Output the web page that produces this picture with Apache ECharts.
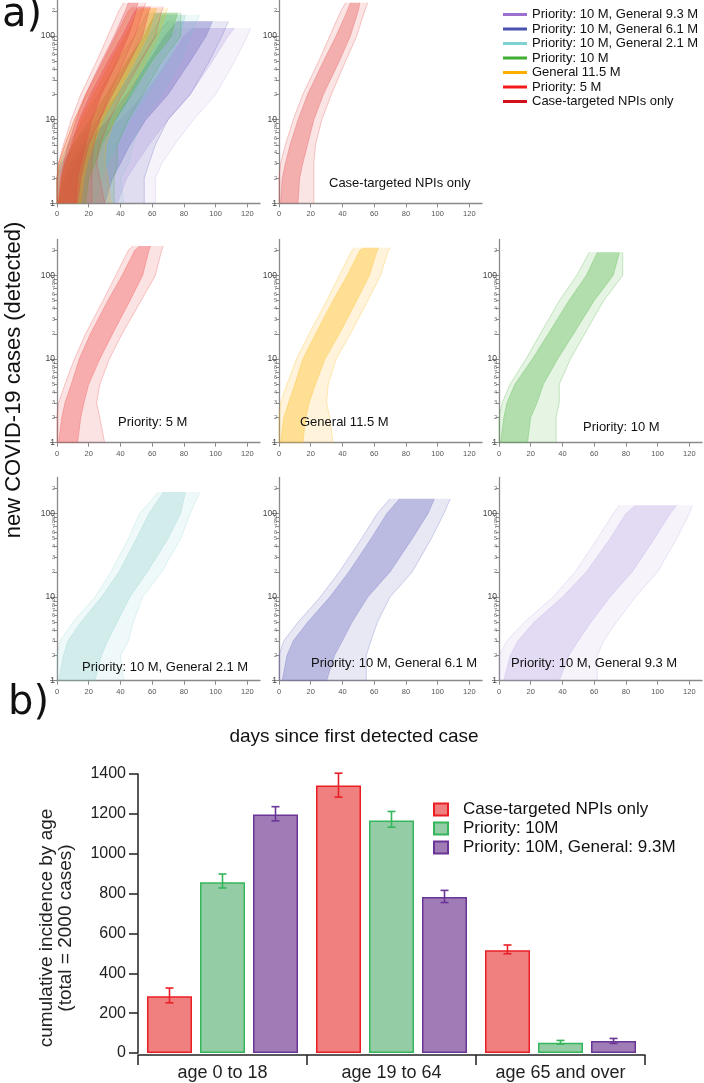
<!DOCTYPE html>
<html><head><meta charset="utf-8">
<script src="https://cdn.jsdelivr.net/npm/echarts@6/dist/echarts.min.js"></script>
<style>html,body{margin:0;padding:0;background:#fff}#c{width:704px;height:1083px}</style>
</head><body><div id="c"></div><script>
// ---------- Panel (a): scenario names & colours ----------
const scenarioNames = ['Priority: 10 M, General 9.3 M', 'Priority: 10 M, General 6.1 M', 'Priority: 10 M, General 2.1 M', 'Priority: 10 M', 'General 11.5 M', 'Priority: 5 M', 'Case-targeted NPIs only'];
const panelLabels = ['Priority: 10 M, General 9.3 M', 'Priority: 10 M, General 6.1 M', 'Priority: 10 M, General 2.1 M', 'Priority: 10 M', 'General 11.5 M', 'Priority: 5 M', 'Case-targeted NPIs only'];
const legendColors = ['#9b70cf', '#4a52b0', '#80d2d2', '#3fae32', '#ffae00', '#f51a1a', '#d0101c'];
const bandColors = ['#a88bd8', '#5c5eb9', '#74c6c6', '#44b038', '#ffb300', '#ec3b3b', '#e23d3d'];

// case levels reached (y) and days at which the bundle edges reach them (x)
const purpleLevels = [1, 2, 3, 5, 10, 20, 50, 100, 125];
const purpleOuterLeft = [0, 0, 5, 16, 34, 48, 62, 72, 76];
const purpleOuterRight = [62, 62, 66, 74, 86, 100, 112, 120, 122];
const purpleCoreLeft = [3, 7, 12, 22, 40, 55, 70, 80, 86];
const purpleCoreRight = [38, 44, 50, 58, 70, 84, 98, 108, 112];

const blueLevels = [1, 2, 3, 5, 10, 20, 50, 100, 150];
const blueOuterLeft = [0, 0, 3, 12, 26, 38, 52, 62, 70];
const blueOuterRight = [55, 55, 58, 62, 70, 84, 96, 104, 108];
const blueCoreLeft = [2, 5, 9, 18, 32, 44, 58, 68, 76];
const blueCoreRight = [30, 35, 40, 46, 56, 70, 84, 94, 98];

const cyanLevels = [1, 2, 3, 5, 10, 20, 50, 100, 180];
const cyanOuterLeft = [0, 0, 2, 10, 24, 34, 45, 52, 64];
const cyanOuterRight = [42, 40, 45, 48, 54, 66, 78, 84, 90];
const cyanCoreLeft = [1, 4, 7, 15, 28, 39, 50, 58, 67];
const cyanCoreRight = [24, 28, 32, 38, 46, 57, 70, 78, 81];

const greenLevels = [1, 2, 3, 5, 10, 20, 50, 100, 190];
const greenOuterLeft = [0, 0, 2, 7, 17, 26, 38, 49, 57];
const greenOuterRight = [36, 36, 38, 38, 45, 54, 66, 78, 78];
const greenCoreLeft = [1, 3, 5, 10, 21, 31, 44, 55, 62];
const greenCoreRight = [18, 20, 24, 28, 37, 47, 60, 72, 76];

const orangeLevels = [1, 2, 3, 5, 10, 20, 50, 100, 200, 215];
const orangeOuterLeft = [0, 0, 1, 5, 11, 19, 30, 38, 46, 48];
const orangeOuterRight = [34, 32, 30, 31, 36, 45, 56, 64, 69, 70];
const orangeCoreLeft = [1, 3, 6, 10, 15, 23, 34, 43, 51, 54];
const orangeCoreRight = [15, 17, 19, 23, 29, 38, 49, 57, 62, 63];

const p5Levels = [1, 2, 3, 5, 10, 20, 50, 100, 200, 225];
const p5OuterLeft = [0, 0, 1, 5, 11, 18, 29, 37, 45, 48];
const p5OuterRight = [30, 27, 25, 27, 33, 41, 53, 62, 66, 67];
const p5CoreLeft = [1, 3, 5, 9, 14, 21, 32, 41, 49, 52];
const p5CoreRight = [13, 15, 17, 20, 27, 35, 46, 54, 58, 59];

const caseLevels = [1, 2, 3, 5, 10, 20, 50, 100, 200, 250];
const caseOuterLeft = [0, 0, 1, 4, 9, 15, 25, 32, 39, 42];
const caseOuterRight = [22, 22, 22, 23, 27, 33, 42, 49, 54, 56];
const caseCoreLeft = [1, 2, 4, 7, 12, 18, 28, 36, 43, 45];
const caseCoreRight = [12, 13, 15, 18, 22, 28, 38, 45, 50, 51];

// axis tick values
const xTickValues = [0, 20, 40, 60, 80, 100, 120];
const yTickValues = [1, 2, 3, 4, 5, 6, 7, 8, 9, 10, 20, 30, 40, 50, 60, 70, 80, 90, 100, 200];
const yMajorTicks = [1, 10, 100];

// ---------- Panel (b): cumulative incidence by age ----------
const ageCategories = ['age 0 to 18', 'age 19 to 64', 'age 65 and over'];
const barNames = ['Case-targeted NPIs only', 'Priority: 10M', 'Priority: 10M, General: 9.3M'];
const caseTargetedValues = [285, 1342, 516];
const priority10Values = [857, 1167, 52];
const priorityGeneralValues = [1197, 783, 60];
const caseTargetedLow = [252, 1284, 498];
const caseTargetedHigh = [326, 1404, 542];
const priority10Low = [828, 1133, 45];
const priority10High = [898, 1212, 63];
const priorityGeneralLow = [1165, 755, 48];
const priorityGeneralHigh = [1236, 816, 73];

// ---------- build ----------
const scen = [
  [purpleLevels, purpleOuterLeft, purpleOuterRight, purpleCoreLeft, purpleCoreRight],
  [blueLevels, blueOuterLeft, blueOuterRight, blueCoreLeft, blueCoreRight],
  [cyanLevels, cyanOuterLeft, cyanOuterRight, cyanCoreLeft, cyanCoreRight],
  [greenLevels, greenOuterLeft, greenOuterRight, greenCoreLeft, greenCoreRight],
  [orangeLevels, orangeOuterLeft, orangeOuterRight, orangeCoreLeft, orangeCoreRight],
  [p5Levels, p5OuterLeft, p5OuterRight, p5CoreLeft, p5CoreRight],
  [caseLevels, caseOuterLeft, caseOuterRight, caseCoreLeft, caseCoreRight]
];
function edge(levels, D) { return levels.map((l, i) => [D[i], l]); }
function polygon(levels, L, R) { return edge(levels, L).concat(edge(levels, R).reverse()); }
const FONT = 'Liberation Sans, Arial, sans-serif';
const colLeft = [57, 279, 499];
const rowTop = [0, 239.4, 477.4];
const PW = 203, PH = 203.3;
const panelPos = [[0, 0], [1, 0], [0, 1], [1, 1], [2, 1], [0, 2], [1, 2], [2, 2]];
const panelScenario = [null, 6, 5, 4, 3, 2, 1, 0];

const grids = [], xAxes = [], yAxes = [], series = [];
function yFmt(v) {
  const n = Math.round(v * 1000) / 1000;
  if (yMajorTicks.indexOf(n) >= 0) return '{M|' + n + '}';
  return '{m|' + String(n).charAt(0) + '}';
}
panelPos.forEach((p, g) => {
  grids.push({ left: colLeft[p[0]], top: rowTop[p[1]], width: PW, height: PH });
  xAxes.push({
    type: 'value', gridIndex: g, min: 0, max: 128,
    axisLine: { show: true, lineStyle: { color: '#8a8a8a', width: 1.3 } },
    axisTick: { show: true, length: 4, customValues: xTickValues, lineStyle: { color: '#8a8a8a' } },
    axisLabel: { customValues: xTickValues, fontSize: 7.5, color: '#555', margin: 7, fontFamily: FONT },
    splitLine: { show: false }
  });
  yAxes.push({
    type: 'log', logBase: 10, gridIndex: g, min: 1, max: 270, position: 'left',
    axisLine: { show: true, lineStyle: { color: '#8a8a8a', width: 1.3 } },
    axisTick: { show: true, length: 3, customValues: yTickValues, lineStyle: { color: '#8a8a8a' } },
    axisLabel: { customValues: yTickValues, formatter: yFmt, margin: 2, fontFamily: FONT,
      rich: { M: { fontSize: 8.5, color: '#444', fontFamily: FONT }, m: { fontSize: 5.5, color: '#666', fontFamily: FONT } } },
    splitLine: { show: false }, minorTick: { show: false }
  });
  yAxes.push({
    type: 'log', logBase: 10, gridIndex: g, min: 1, max: 270, position: 'left',
    axisLine: { show: false },
    axisTick: { show: true, length: 7, customValues: yMajorTicks, lineStyle: { color: '#8a8a8a' } },
    axisLabel: { show: false }, splitLine: { show: false }
  });
});

function bandSeries(si, g) {
  const s = scen[si];
  const outer = polygon(s[0], s[1], s[2]);
  const core = polygon(s[0], s[3], s[4]);
  const edges = [edge(s[0], s[1]), edge(s[0], s[2]), edge(s[0], s[3]), edge(s[0], s[4])];
  const col = bandColors[si];
  const faint = (si === 2 || si === 0) ? 0.75 : 1;
  return {
    type: 'custom', name: scenarioNames[si], xAxisIndex: g, yAxisIndex: g * 2,
    data: outer, silent: true, itemStyle: { color: legendColors[si] },
    renderItem: function (params, api) {
      if (params.dataIndex !== 0) return null;
      const pts = a => a.map(q => api.coord(q));
      const children = [
        { type: 'polygon', shape: { points: pts(outer) }, style: { fill: col, opacity: 0.14 * faint } },
        { type: 'polygon', shape: { points: pts(core) }, style: { fill: col, opacity: 0.32 * faint } }
      ];
      edges.forEach(e => children.push({ type: 'polyline', shape: { points: pts(e) },
        style: { stroke: col, fill: null, lineWidth: 0.8, opacity: 0.35 * faint } }));
      return { type: 'group', children: children };
    }
  };
}
for (let si = 0; si < 7; si++) series.push(bandSeries(si, 0));
for (let g = 1; g < 8; g++) series.push(bandSeries(panelScenario[g], g));

// bar chart grid (index 8)
grids.push({ left: 138, right: 59, top: 774, height: 279 });
xAxes.push({
  type: 'category', gridIndex: 8, data: ageCategories, offset: 2,
  axisLine: { show: true, onZero: false, lineStyle: { color: '#222', width: 1.5 } },
  axisTick: { show: true, length: 10, lineStyle: { color: '#222', width: 1.5 } },
  axisLabel: { fontSize: 18, color: '#222', margin: 9, fontFamily: FONT, interval: 0 }
});
yAxes.push({
  type: 'value', gridIndex: 8, min: 0, max: 1400, interval: 200,
  axisLine: { show: true, lineStyle: { color: '#222', width: 1.5 } },
  axisTick: { show: true, length: 9, lineStyle: { color: '#222', width: 1.5 } },
  axisLabel: { fontSize: 16, color: '#222', margin: 12, fontFamily: FONT, formatter: v => String(v) },
  splitLine: { show: false }
});
const barVals = [caseTargetedValues, priority10Values, priorityGeneralValues];
const barLow = [caseTargetedLow, priority10Low, priorityGeneralLow];
const barHigh = [caseTargetedHigh, priority10High, priorityGeneralHigh];
const barFill = ['#f08080', '#94cca6', '#a07cb6'];
const barBorder = ['#ea1f26', '#35b65a', '#6a3596'];
const BW = 45, BGAP = 8;
barVals.forEach((vals, k) => {
  series.push({
    type: 'bar', name: 'b:' + barNames[k], xAxisIndex: 8, yAxisIndex: 16, data: vals,
    barWidth: BW, barGap: (BGAP / BW * 100) + '%',
    itemStyle: { color: barFill[k], borderColor: barBorder[k], borderWidth: 1.5 }, silent: true
  });
});
barVals.forEach((vals, k) => {
  series.push({
    type: 'custom', xAxisIndex: 8, yAxisIndex: 16, silent: true, z: 5,
    data: ageCategories.map((c, i) => [i, barLow[k][i], barHigh[k][i]]),
    renderItem: function (params, api) {
      const i = api.value(0);
      const hi = api.coord([i, api.value(2)]);
      const lo = api.coord([i, api.value(1)]);
      const x = hi[0] + (k - 1) * (BW + BGAP);
      const st = { stroke: barBorder[k], lineWidth: 1.6 };
      return { type: 'group', children: [
        { type: 'line', shape: { x1: x, y1: hi[1], x2: x, y2: lo[1] }, style: st },
        { type: 'line', shape: { x1: x - 4, y1: hi[1], x2: x + 4, y2: hi[1] }, style: st },
        { type: 'line', shape: { x1: x - 4, y1: lo[1], x2: x + 4, y2: lo[1] }, style: st }
      ] };
    }
  });
});

const labelPos = {
  'Case-targeted NPIs only': [329, 183], 'Priority: 5 M': [118, 422], 'General 11.5 M': [300, 422],
  'Priority: 10 M': [583, 427], 'Priority: 10 M, General 2.1 M': [82, 667],
  'Priority: 10 M, General 6.1 M': [311, 663], 'Priority: 10 M, General 9.3 M': [511, 663]
};
const graphics = [
  { type: 'text', left: 2, top: -4, style: { text: 'a)', fontSize: 40, fontFamily: 'DejaVu Sans', fill: '#111' } },
  { type: 'text', left: 8, top: 684, style: { text: 'b)', fontSize: 40, fontFamily: 'DejaVu Sans', fill: '#111' } },
  { type: 'text', x: 14, y: 380, rotation: Math.PI / 2, style: { text: 'new COVID-19 cases (detected)', fontSize: 22, fontFamily: FONT, fill: '#111', align: 'center', verticalAlign: 'middle' } },
  { type: 'text', x: 354, y: 737, style: { text: 'days since first detected case', fontSize: 19, fontFamily: FONT, fill: '#111', align: 'center', verticalAlign: 'middle' } },
  { type: 'text', x: 47, y: 928, rotation: Math.PI / 2, style: { text: 'cumulative incidence by age', fontSize: 19, fontFamily: FONT, fill: '#222', align: 'center', verticalAlign: 'middle' } },
  { type: 'text', x: 66, y: 928, rotation: Math.PI / 2, style: { text: '(total = 2000 cases)', fontSize: 19, fontFamily: FONT, fill: '#222', align: 'center', verticalAlign: 'middle' } }
];
panelLabels.forEach(t => {
  const p = labelPos[t];
  graphics.push({ type: 'text', x: p[0], y: p[1], z: 10, style: { text: t, fontSize: 13, fontFamily: FONT, fill: '#111', verticalAlign: 'middle' } });
});

const chart = echarts.init(document.getElementById('c'), null, { renderer: 'canvas' });
chart.setOption({
  animation: false, backgroundColor: '#fff',
  grid: grids, xAxis: xAxes, yAxis: yAxes, series: series, graphic: graphics,
  legend: [
    { data: scenarioNames.map((n, i) => ({ name: n, itemStyle: { color: legendColors[i] } })),
      orient: 'vertical', left: 498, top: 3, icon: 'rect', itemWidth: 24, itemHeight: 3, itemGap: 1.5,
      selectedMode: false, textStyle: { fontSize: 13, color: '#111', fontFamily: FONT, lineHeight: 13 } },
    { data: barNames.map(n => 'b:' + n), formatter: n => n.slice(2),
      orient: 'vertical', left: 428, top: 796, icon: 'rect', itemWidth: 14, itemHeight: 12, itemGap: 2,
      selectedMode: false, textStyle: { fontSize: 17, color: '#111', fontFamily: FONT, lineHeight: 17, padding: [0, 0, 0, 10] } }
  ]
});
</script></body></html>
